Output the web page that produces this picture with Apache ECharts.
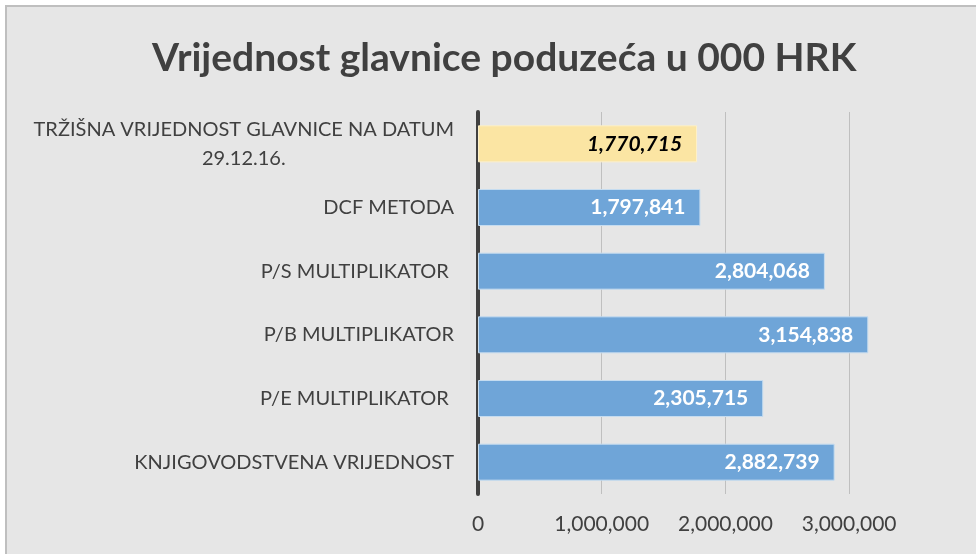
<!DOCTYPE html>
<html>
<head>
<meta charset="utf-8">
<script src="https://cdn.jsdelivr.net/npm/echarts@6/dist/echarts.min.js"></script>
<style>
  html, body { margin: 0; padding: 0; background: #fff; }
  #frame {
    position: absolute; left: 5px; top: 5px;
    width: 976px; height: 554px;
    border-left: 2px solid #bfbfbf; border-top: 2px solid #bfbfbf;
    background: #e6e6e6;
  }
  #chart { position: absolute; left: -7px; top: -7px; width: 976px; height: 554px; }
</style>
</head>
<body>
<div id="frame"><div id="chart"></div></div>
<script>
// data, top to bottom
const categories = [
    'TRŽIŠNA VRIJEDNOST GLAVNICE NA DATUM\n29.12.16.',
    'DCF METODA',
    'P/S MULTIPLIKATOR ',
    'P/B MULTIPLIKATOR',
    'P/E MULTIPLIKATOR ',
    'KNJIGOVODSTVENA VRIJEDNOST'
];
const values = [1770715, 1797841, 2804068, 3154838, 2305715, 2882739];
const highlighted = [true, false, false, false, false, false];
const xTicks = [0, 1000000, 2000000, 3000000];

const fmt = v => v.toLocaleString('en-US');
const font = 'Lato';

const myChart = echarts.init(document.getElementById('chart'));

const barData = values.map((v, i) => {
    if (highlighted[i]) {
        return {
            value: v,
            itemStyle: { color: '#fbe5a3', borderColor: '#fdf0c9', borderWidth: 1 },
            label: { color: '#000', fontStyle: 'italic' }
        };
    }
    return v;
});

const option = {
    backgroundColor: 'transparent',
    title: {
        text: 'Vrijednost glavnice poduzeća u 000 HRK',
        left: 147,
        top: 34,
        textStyle: { fontFamily: font, fontSize: 39, fontWeight: 'bold', color: '#404040' }
    },
    grid: { left: 478, right: 65, top: 112, bottom: 60, containLabel: false },
    xAxis: {
        type: 'value',
        min: 0,
        max: 3500000,
        interval: 1000000,
        axisLine: { show: false },
        axisTick: { show: false },
        axisLabel: {
            showMaxLabel: false,
            margin: 20,
            color: '#404040',
            fontFamily: font,
            fontSize: 21,
            formatter: v => xTicks.includes(v) ? fmt(v) : ''
        },
        splitLine: { show: true, showMaxLine: false, lineStyle: { color: '#bfbfbf', width: 1 } }
    },
    yAxis: {
        type: 'category',
        data: categories,
        inverse: true,
        axisLine: { show: true, lineStyle: { color: '#404040', width: 4 } },
        axisTick: { show: false },
        axisLabel: {
            margin: 24,
            color: '#404040',
            fontFamily: font,
            fontSize: 20,
            lineHeight: 29,
            formatter: v => v.split('\n').map(s => '{c|' + s + '}').join('\n'),
            rich: { c: { align: 'center', color: '#404040', fontFamily: font, fontSize: 20, lineHeight: 29 } }
        }
    },
    series: [{
        type: 'bar',
        data: barData,
        barWidth: 37,
        itemStyle: { color: '#6fa5d8', borderColor: '#c5dcf0', borderWidth: 1 },
        label: {
            show: true,
            position: 'insideRight',
            distance: 15,
            color: '#fff',
            fontFamily: font,
            fontSize: 21,
            fontWeight: 'bold',
            formatter: p => fmt(p.value)
        }
    }]
};

myChart.setOption(option);
</script>
</body>
</html>
